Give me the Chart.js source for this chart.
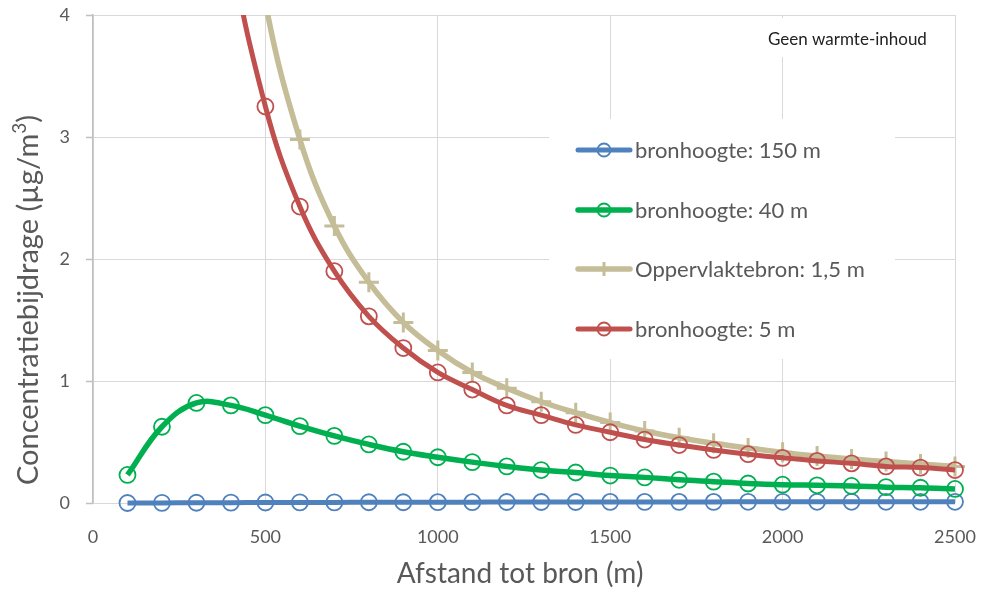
<!DOCTYPE html>
<html>
<head>
<meta charset="utf-8">
<script src="https://cdn.jsdelivr.net/npm/chart.js@4.4.1/dist/chart.umd.min.js"></script>
<style>
    html, body { margin: 0; padding: 0; background: #fff; }
    #wrap { width: 984px; height: 595px; position: relative; }
</style>
</head>
<body>
<div id="wrap"><canvas id="chart" width="984" height="595"></canvas></div>
<script>
'use strict';

// afstand tot bron (m)
const distances = [100, 200, 300, 400, 500, 600, 700, 800, 900, 1000, 1100, 1200, 1300,
    1400, 1500, 1600, 1700, 1800, 1900, 2000, 2100, 2200, 2300, 2400, 2500];

// concentratiebijdrage per bronhoogte (µg/m3)
const h150 = [0.000, 0.001, 0.002, 0.003, 0.004, 0.005, 0.005, 0.006, 0.006, 0.007, 0.007, 0.008, 0.008,
    0.008, 0.009, 0.009, 0.009, 0.009, 0.010, 0.010, 0.010, 0.010, 0.010, 0.010, 0.010];
const h40 = [0.23, 0.625, 0.82, 0.80, 0.72, 0.63, 0.55, 0.48, 0.42, 0.375, 0.335, 0.30, 0.27,
    0.25, 0.225, 0.21, 0.19, 0.175, 0.16, 0.15, 0.145, 0.14, 0.13, 0.125, 0.115];
const opp15 = [60, 19, 9.5, 5.9, 4.1, 2.98, 2.27, 1.81, 1.48, 1.25, 1.07, 0.94, 0.83,
    0.74, 0.66, 0.59, 0.535, 0.49, 0.45, 0.415, 0.385, 0.36, 0.34, 0.32, 0.30];
const h5 = [40, 14, 7.2, 4.6, 3.25, 2.43, 1.90, 1.53, 1.27, 1.07, 0.93, 0.80, 0.72,
    0.64, 0.58, 0.52, 0.475, 0.435, 0.40, 0.37, 0.345, 0.325, 0.30, 0.29, 0.27];

const seriesLabels = ['bronhoogte: 150 m', 'bronhoogte: 40 m', 'Oppervlaktebron: 1,5 m', 'bronhoogte: 5 m'];
const xTicks = [0, 500, 1000, 1500, 2000, 2500];
const yTicks = [0, 1, 2, 3, 4];

const FONT = 'Lato';
const TEXT = '#595959';
const GRID = '#d9d9d9';
const AXIS = '#bfbfbf';

function toPoints(values) {
    return distances.map((d, i) => ({ x: d, y: values[i] }));
}

function series(label, values, color, width, order, style) {
    const cross = style === 'cross';
    return {
        label: label,
        data: toPoints(values),
        borderColor: color,
        backgroundColor: color,
        borderWidth: width,
        pointStyle: cross ? 'cross' : 'circle',
        pointRadius: cross ? 10 : 8,
        pointBorderWidth: cross ? 3 : 1.8,
        pointBorderColor: color,
        pointBackgroundColor: 'rgba(0,0,0,0)',
        tension: 0.4,
        order: order,
        clip: { left: 12, right: 12, top: 0, bottom: 12 }
    };
}

// legend, corner label and axis titles drawn by hand to sit where the original has them
const decorPlugin = {
    id: 'decor',
    beforeDatasetsDraw(chart) {
        const ctx = chart.ctx;
        const area = chart.chartArea;
        const yScale = chart.scales.y;
        ctx.save();

        // small outside tick marks on the value axis
        ctx.strokeStyle = AXIS;
        ctx.lineWidth = 1.5;
        yTicks.forEach(v => {
            const py = Math.round(yScale.getPixelForValue(v)) + 0.5;
            ctx.beginPath();
            ctx.moveTo(area.left - 7, py);
            ctx.lineTo(area.left, py);
            ctx.stroke();
        });

        // white boxes over the grid
        ctx.fillStyle = '#fff';
        ctx.fillRect(549, 119, 346, 240);
        ctx.fillRect(760, 18, 180, 39);

        ctx.fillStyle = '#222';
        ctx.font = '17px ' + FONT;
        ctx.textAlign = 'left';
        ctx.textBaseline = 'middle';
        ctx.fillText('Geen warmte-inhoud', 768, 40);

        const rows = [150, 210, 269, 329];
        chart.data.datasets.forEach((ds, i) => {
            const y = rows[i];
            const cross = ds.pointStyle === 'cross';
            ctx.strokeStyle = ds.borderColor;
            ctx.lineWidth = ds.borderWidth;
            ctx.lineCap = 'round';
            ctx.beginPath();
            ctx.moveTo(578, y);
            ctx.lineTo(630, y);
            ctx.stroke();
            ctx.lineCap = 'butt';
            ctx.fillStyle = 'rgba(0,0,0,0)';
            ctx.lineWidth = cross ? 3 : 1.8;
            Chart.helpers.drawPoint(ctx, {
                pointStyle: ds.pointStyle,
                radius: cross ? 7 : 6.5,
                borderWidth: cross ? 3 : 1.8,
                rotation: 0
            }, 604, y);
            ctx.fillStyle = TEXT;
            ctx.font = '22px ' + FONT;
            ctx.textAlign = 'left';
            ctx.textBaseline = 'middle';
            ctx.fillText(ds.label, 635, y + 1);
        });
        ctx.restore();
    },
    afterDraw(chart) {
        const ctx = chart.ctx;
        ctx.save();
        ctx.fillStyle = TEXT;
        ctx.textBaseline = 'middle';

        // x title
        ctx.font = '28px ' + FONT;
        ctx.textAlign = 'center';
        ctx.fillText('Afstand tot bron (m)', 520, 574);

        // y title with superscript
        const main = 'Concentratiebijdrage (µg/m';
        const sup = '3';
        const tail = ')';
        ctx.font = '29px ' + FONT;
        const wMain = ctx.measureText(main).width;
        const wTail = ctx.measureText(tail).width;
        ctx.font = '19px ' + FONT;
        const wSup = ctx.measureText(sup).width;
        const total = wMain + wSup + wTail;

        ctx.translate(29, 300);
        ctx.rotate(-Math.PI / 2);
        ctx.textAlign = 'left';
        let x = -total / 2;
        ctx.font = '29px ' + FONT;
        ctx.fillText(main, x, 0);
        x += wMain;
        ctx.font = '19px ' + FONT;
        ctx.fillText(sup, x, -9);
        x += wSup;
        ctx.font = '29px ' + FONT;
        ctx.fillText(tail, x, 0);
        ctx.restore();
    }
};

const ctx = document.getElementById('chart').getContext('2d');
new Chart(ctx, {
    type: 'line',
    data: {
        datasets: [
            series(seriesLabels[0], h150, '#4f81bd', 5, 4, 'circle'),
            series(seriesLabels[1], h40, '#00b050', 5.5, 3, 'circle'),
            series(seriesLabels[2], opp15, '#c4bd97', 5.5, 2, 'cross'),
            series(seriesLabels[3], h5, '#c0504d', 5, 1, 'circle')
        ]
    },
    options: {
        responsive: false,
        animation: false,
        devicePixelRatio: 1,
        layout: { padding: { left: 0, top: 15, right: 29, bottom: 0 } },
        elements: { line: { capBezierPoints: false } },
        plugins: {
            legend: { display: false },
            tooltip: { enabled: false }
        },
        scales: {
            x: {
                type: 'linear',
                min: 0,
                max: 2500,
                afterBuildTicks: s => { s.ticks = xTicks.map(v => ({ value: v })); },
                afterFit: s => { s.height = 92; },
                ticks: {
                    color: TEXT,
                    font: { family: FONT, size: 18 },
                    padding: 0,
                    maxRotation: 0,
                    callback: v => String(v)
                },
                grid: { color: GRID, lineWidth: 1, drawTicks: true, tickLength: 23, tickColor: 'rgba(0,0,0,0)' },
                border: { display: false }
            },
            y: {
                type: 'linear',
                min: 0,
                max: 4,
                afterBuildTicks: s => { s.ticks = yTicks.map(v => ({ value: v })); },
                afterFit: s => { s.width = 93; },
                ticks: {
                    color: TEXT,
                    font: { family: FONT, size: 18 },
                    padding: 0,
                    callback: v => String(v)
                },
                grid: { color: GRID, lineWidth: 1, tickLength: 23, tickColor: 'rgba(0,0,0,0)' },
                border: { color: AXIS, width: 1.5 }
            }
        }
    },
    plugins: [decorPlugin]
});
</script>
</body>
</html>
